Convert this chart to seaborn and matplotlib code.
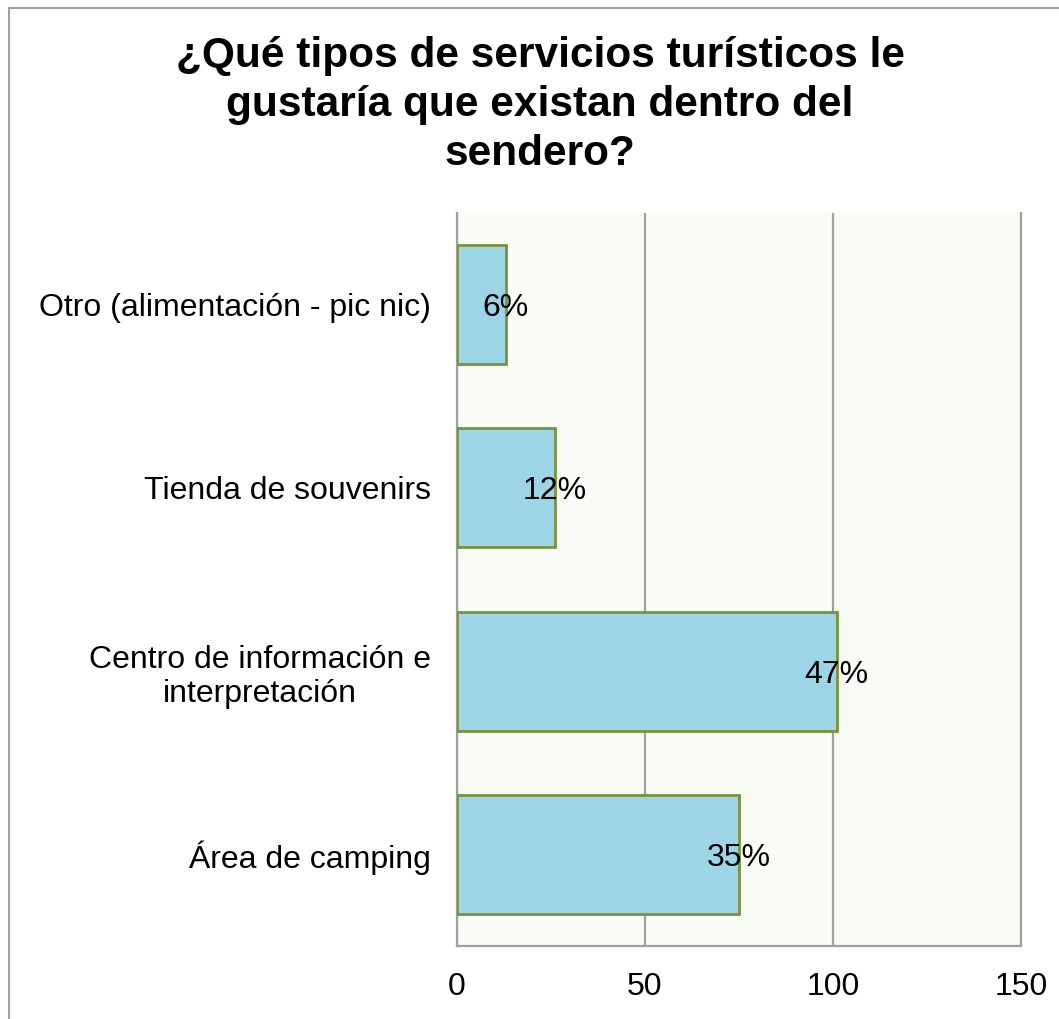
import matplotlib
matplotlib.use("Agg")
import matplotlib.pyplot as plt
import seaborn as sns
import pandas as pd
from matplotlib.lines import Line2D

# Survey answers: number of respondents per requested service
categories = [
    "Otro (alimentación - pic nic)",
    "Tienda de souvenirs",
    "Centro de información e\ninterpretación",
    "Área de camping",
]
counts = [13, 26, 101, 75]
x_ticks = [0, 50, 100, 150]
title_lines = [
    "¿Qué tipos de servicios turísticos le",
    "gustaría que existan dentro del",
    "sendero?",
]

sns.set_theme(style="white")
plt.rcParams["font.family"] = ["Liberation Sans", "DejaVu Sans"]

W, H = 1059, 1019
fig = plt.figure(figsize=(W / 100, H / 100), dpi=100)
fig.patch.set_facecolor("white")

ax = fig.add_axes([457 / W, 1 - 946 / H, (1021 - 457) / W, (946 - 213) / H])
ax.set_facecolor("#F9FBF5")

df = pd.DataFrame({"servicio": categories, "n": counts})
sns.barplot(
    data=df, x="n", y="servicio", order=categories,
    color="#9DD5E6", saturation=1, width=0.65,
    edgecolor="#77933C", linewidth=2, ax=ax, zorder=3,
)

# Percent labels centred on the end of each bar
total = sum(counts)
for i, n in enumerate(counts):
    ax.text(n, i, f"{round(n / total * 100)}%", ha="center", va="center_baseline",
            fontsize=23, color="black", zorder=4)

ax.set_xlim(0, 150)
ax.set_ylim(len(categories) - 0.5, -0.5)
ax.set_xticks(x_ticks)
ax.set_xlabel("")
ax.set_ylabel("")

grid_color = "#A0A0A0"
ax.xaxis.grid(True, color=grid_color, linewidth=1.6, zorder=1)
ax.yaxis.grid(False)
ax.set_axisbelow(True)
for side in ("left", "bottom", "right"):
    ax.spines[side].set_visible(True)
    ax.spines[side].set_color(grid_color)
    ax.spines[side].set_linewidth(1.6)
ax.spines["top"].set_visible(False)

ax.tick_params(axis="both", length=0, labelsize=23, colors="black")
ax.tick_params(axis="y", pad=19)
ax.tick_params(axis="x", pad=19)
for lbl in ax.get_yticklabels():
    lbl.set_multialignment("center")

# Title, one line per baseline
for k, line in enumerate(title_lines):
    fig.text(0.51, 1 - (67 + 49 * k) / H, line, ha="center", va="baseline",
             color="black", fontsize=30.5, fontweight="bold")

# Outer frame (left and top edges)
fig.add_artist(Line2D([9 / W, 9 / W, 1.0], [0.0, 1 - 7.5 / H, 1 - 7.5 / H],
                      transform=fig.transFigure, color=grid_color, linewidth=1.5))

fig.savefig("out.png", dpi=100, facecolor="white")
